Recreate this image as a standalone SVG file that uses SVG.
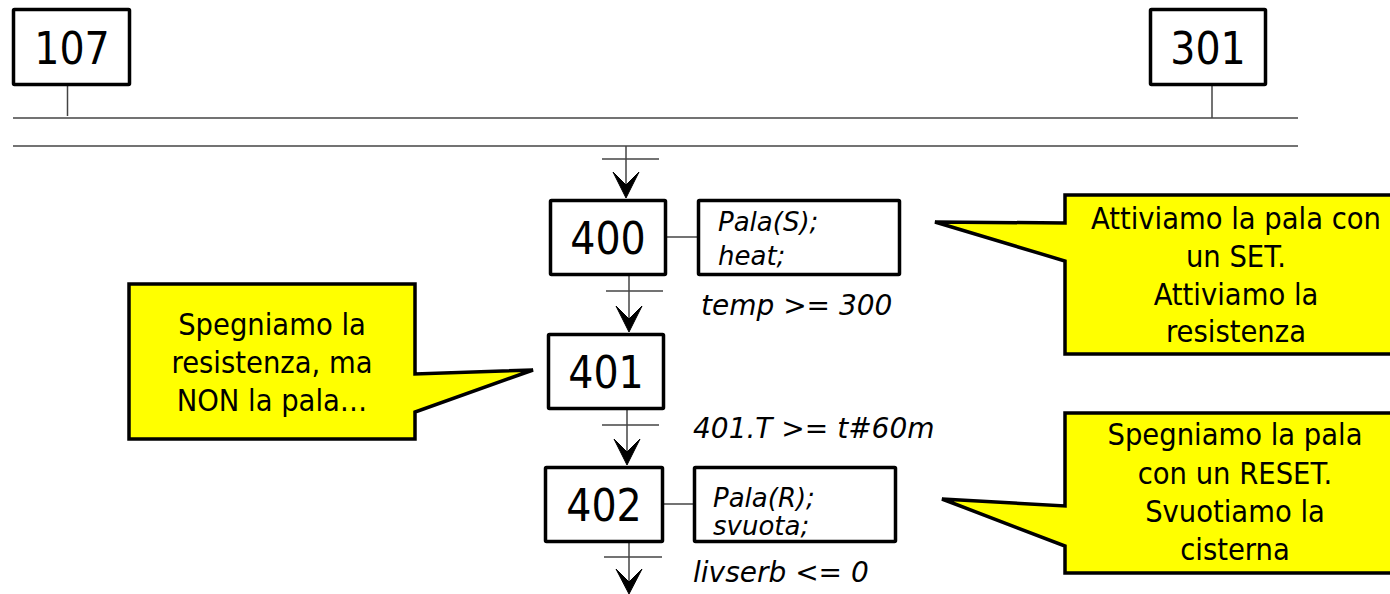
<svg xmlns="http://www.w3.org/2000/svg" width="1390" height="594" viewBox="0 0 1390 594">
<style>
.box{fill:#fff;stroke:#000;stroke-width:3.5;}
.lbl{font-family:"DejaVu Sans Condensed","DejaVu Sans",sans-serif;font-stretch:condensed;font-size:44px;fill:#000;text-anchor:middle;}
.act{font-family:"DejaVu Sans",sans-serif;font-style:italic;font-size:26px;fill:#000;}
.cond{font-family:"DejaVu Sans",sans-serif;font-style:italic;font-size:28px;fill:#000;}
.call{fill:#ffff00;stroke:#000;stroke-width:3.5;stroke-linejoin:miter;}
.ct{font-family:"DejaVu Sans Condensed","DejaVu Sans",sans-serif;font-stretch:condensed;font-size:30.5px;fill:#000;text-anchor:middle;}
.ln{stroke:#444;stroke-width:1.5;fill:none;}
.ah{fill:#000;stroke:#000;stroke-width:1;}
</style>
<g id="connectors">
<line class="ln" x1="67.5" y1="85" x2="67.5" y2="116"/>
<line class="ln" x1="1212" y1="86" x2="1212" y2="118"/>
<line class="ln" x1="13" y1="118" x2="1298" y2="118"/>
<line class="ln" x1="13" y1="146" x2="1298" y2="146"/>
<line class="ln" x1="626" y1="146" x2="626" y2="190"/>
<line class="ln" x1="602" y1="159" x2="659" y2="159"/>
<polygon class="ah" points="613,172 626,198 639,172 626,185"/>
<line class="ln" x1="629" y1="276" x2="629" y2="325"/>
<line class="ln" x1="606" y1="291" x2="663" y2="291"/>
<polygon class="ah" points="616,306 629,332 642,306 629,319"/>
<line class="ln" x1="627" y1="410" x2="627" y2="458"/>
<line class="ln" x1="602" y1="425" x2="659" y2="425"/>
<polygon class="ah" points="614,439 627,465 640,439 627,452"/>
<line class="ln" x1="629" y1="543" x2="629" y2="588"/>
<line class="ln" x1="604" y1="557" x2="662" y2="557"/>
<polygon class="ah" points="616,569 629,594 642,569 629,582"/>
<line class="ln" x1="667" y1="237" x2="697" y2="237"/>
<line class="ln" x1="664" y1="504" x2="693" y2="504"/>
</g>
<g id="n107">
<rect class="box" x="13.5" y="9.5" width="116" height="75" rx="1"/>
<text class="lbl" x="72" y="64">107</text>
</g>
<g id="n301">
<rect class="box" x="1150.5" y="9.5" width="115" height="75" rx="1"/>
<text class="lbl" x="1208" y="64">301</text>
</g>
<g id="n400">
<rect class="box" x="550.5" y="200.5" width="115" height="74" rx="1"/>
<text class="lbl" x="608" y="254">400</text>
</g>
<g id="a400">
<rect class="box" x="698.5" y="200.5" width="201" height="74" rx="1"/>
<text class="act" x="718" y="231">Pala(S);</text>
<text class="act" x="718" y="265">heat;</text>
</g>
<g id="t400">
<text class="cond" x="701" y="315">temp &gt;= 300</text>
</g>
<g id="n401">
<rect class="box" x="548.5" y="334.5" width="115" height="74" rx="1"/>
<text class="lbl" x="606" y="388">401</text>
</g>
<g id="t401">
<text class="cond" x="693" y="438">401.T &gt;= t#60m</text>
</g>
<g id="n402">
<rect class="box" x="545.5" y="467.5" width="117" height="74" rx="1"/>
<text class="lbl" x="604" y="521">402</text>
</g>
<g id="a402">
<rect class="box" x="694.5" y="467.5" width="201" height="74" rx="1"/>
<text class="act" x="713" y="507">Pala(R);</text>
<text class="act" x="713" y="535">svuota;</text>
</g>
<g id="t402">
<text class="cond" x="693" y="582">livserb &lt;= 0</text>
</g>
<g id="c1">
<path class="call" d="M129,284 H415 V374 L533,370 L415,412 V439 H129 Z"/>
<text class="ct" x="272" y="335">Spegniamo la</text>
<text class="ct" x="272" y="373">resistenza, ma</text>
<text class="ct" x="272" y="411">NON la pala…</text>
</g>
<g id="c2">
<path class="call" d="M1065,195 H1396 V354 H1065 V261 L935,222 L1065,223 Z"/>
<text class="ct" x="1236" y="229">Attiviamo la pala con</text>
<text class="ct" x="1236" y="267">un SET.</text>
<text class="ct" x="1236" y="305">Attiviamo la</text>
<text class="ct" x="1236" y="342">resistenza</text>
</g>
<g id="c3">
<path class="call" d="M1065,413 H1396 V573 H1065 V546 L942,499 L1065,506 Z"/>
<text class="ct" x="1235" y="445">Spegniamo la pala</text>
<text class="ct" x="1235" y="484">con un RESET.</text>
<text class="ct" x="1235" y="522">Svuotiamo la</text>
<text class="ct" x="1235" y="560">cisterna</text>
</g>
</svg>
